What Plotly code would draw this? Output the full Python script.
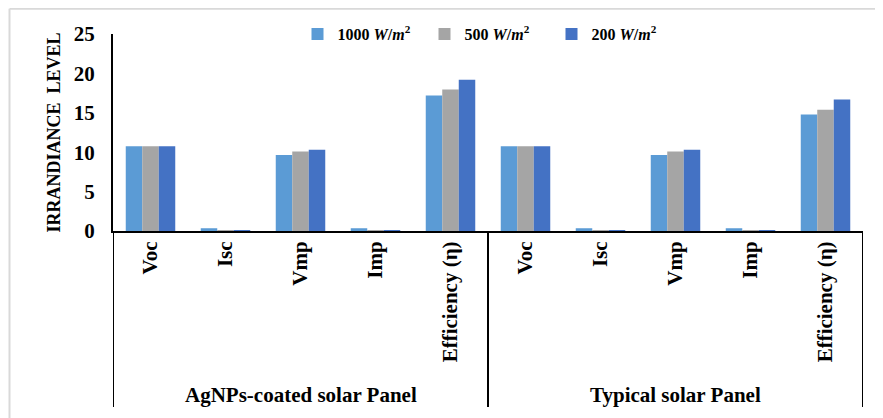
import plotly.graph_objects as go

groups = ["AgNPs-coated solar Panel", "Typical solar Panel"]
params = ["Voc", "Isc", "Vmp", "Imp", "Efficiency (η)"]
series_names = ["<b>1000 <i>W</i>/<i>m</i><sup>2</sup></b>", "<b>500 <i>W</i>/<i>m</i><sup>2</sup></b>", "<b>200 <i>W</i>/<i>m</i><sup>2</sup></b>"]
colors = ["#5B9BD5", "#A5A5A5", "#4472C4"]

# values per series, AgNPs-coated panel then typical panel
v1000 = [10.75, 0.35, 9.65, 0.35, 17.2, 10.75, 0.35, 9.65, 0.35, 14.8]
v500 = [10.75, 0.08, 10.1, 0.08, 17.95, 10.75, 0.08, 10.1, 0.08, 15.4]
v200 = [10.75, 0.05, 10.3, 0.05, 19.2, 10.75, 0.05, 10.3, 0.05, 16.7]
y_ticks = [0, 5, 10, 15, 20, 25]

keys = [f"{g}|{p}" for g in groups for p in params]
labels = [p for g in groups for p in params]

fig = go.Figure()
for name, vals, col in zip(series_names, [v1000, v500, v200], colors):
    fig.add_trace(go.Bar(x=keys, y=vals, name=name, marker=dict(color=col, line=dict(width=0))))

serif = "Liberation Serif, Times New Roman, serif"
fig.update_layout(
    width=875, height=410,
    margin=dict(l=105, r=20, t=26, b=187, autoexpand=False),
    paper_bgcolor="white", plot_bgcolor="white",
    barmode="group", bargap=0.34, bargroupgap=0,
    showlegend=True,
    legend=dict(orientation="h", x=0.5, xanchor="center", y=1.0, yanchor="middle",
                font=dict(family=serif, size=16, color="black"), bgcolor="rgba(0,0,0,0)",
                itemwidth=30, entrywidth=82, entrywidthmode="pixels"),
    xaxis=dict(type="category", tickvals=keys, ticktext=[f"<b>{t}</b>" for t in labels],
               tickangle=-90, tickfont=dict(family=serif, size=21, color="black"),
               showline=True, linecolor="black", linewidth=2, ticks="", showgrid=False,
               range=[-0.5, len(keys) - 0.5]),
    yaxis=dict(range=[0, 25], tickvals=y_ticks, ticktext=[f"<b>{t}</b>" for t in y_ticks],
               tickfont=dict(family=serif, size=21, color="black"),
               showline=True, linecolor="black", linewidth=2, ticks="", showgrid=False,
               zeroline=False, ticklabelstandoff=12,
               title=dict(text="<b>IRRANDIANCE  LEVEL</b>", font=dict(family=serif, size=18, color="black"), standoff=8)),
)

# group dividers
for xv in [-0.5, len(params) - 0.5, len(keys) - 0.5]:
    fig.add_shape(type="line", xref="x", yref="paper", x0=xv, x1=xv, y0=0, y1=-0.893,
                  line=dict(color="black", width=2))
# group labels
for i, g in enumerate(groups):
    fig.add_annotation(xref="x", yref="paper", x=i * len(params) + (len(params) - 1) / 2, y=-0.832,
                       text=f"<b>{g}</b>", showarrow=False, yanchor="middle",
                       font=dict(family=serif, size=21, color="black"))
# outer light border (top/left)
fig.add_shape(type="line", xref="paper", yref="paper", x0=-0.138, x1=1.03, y0=1.128, y1=1.128,
              line=dict(color="#D9D9D9", width=2))
fig.add_shape(type="line", xref="paper", yref="paper", x0=-0.138, x1=-0.138, y0=1.128, y1=-0.95,
              line=dict(color="#D9D9D9", width=2))

fig.write_html("out.html")
